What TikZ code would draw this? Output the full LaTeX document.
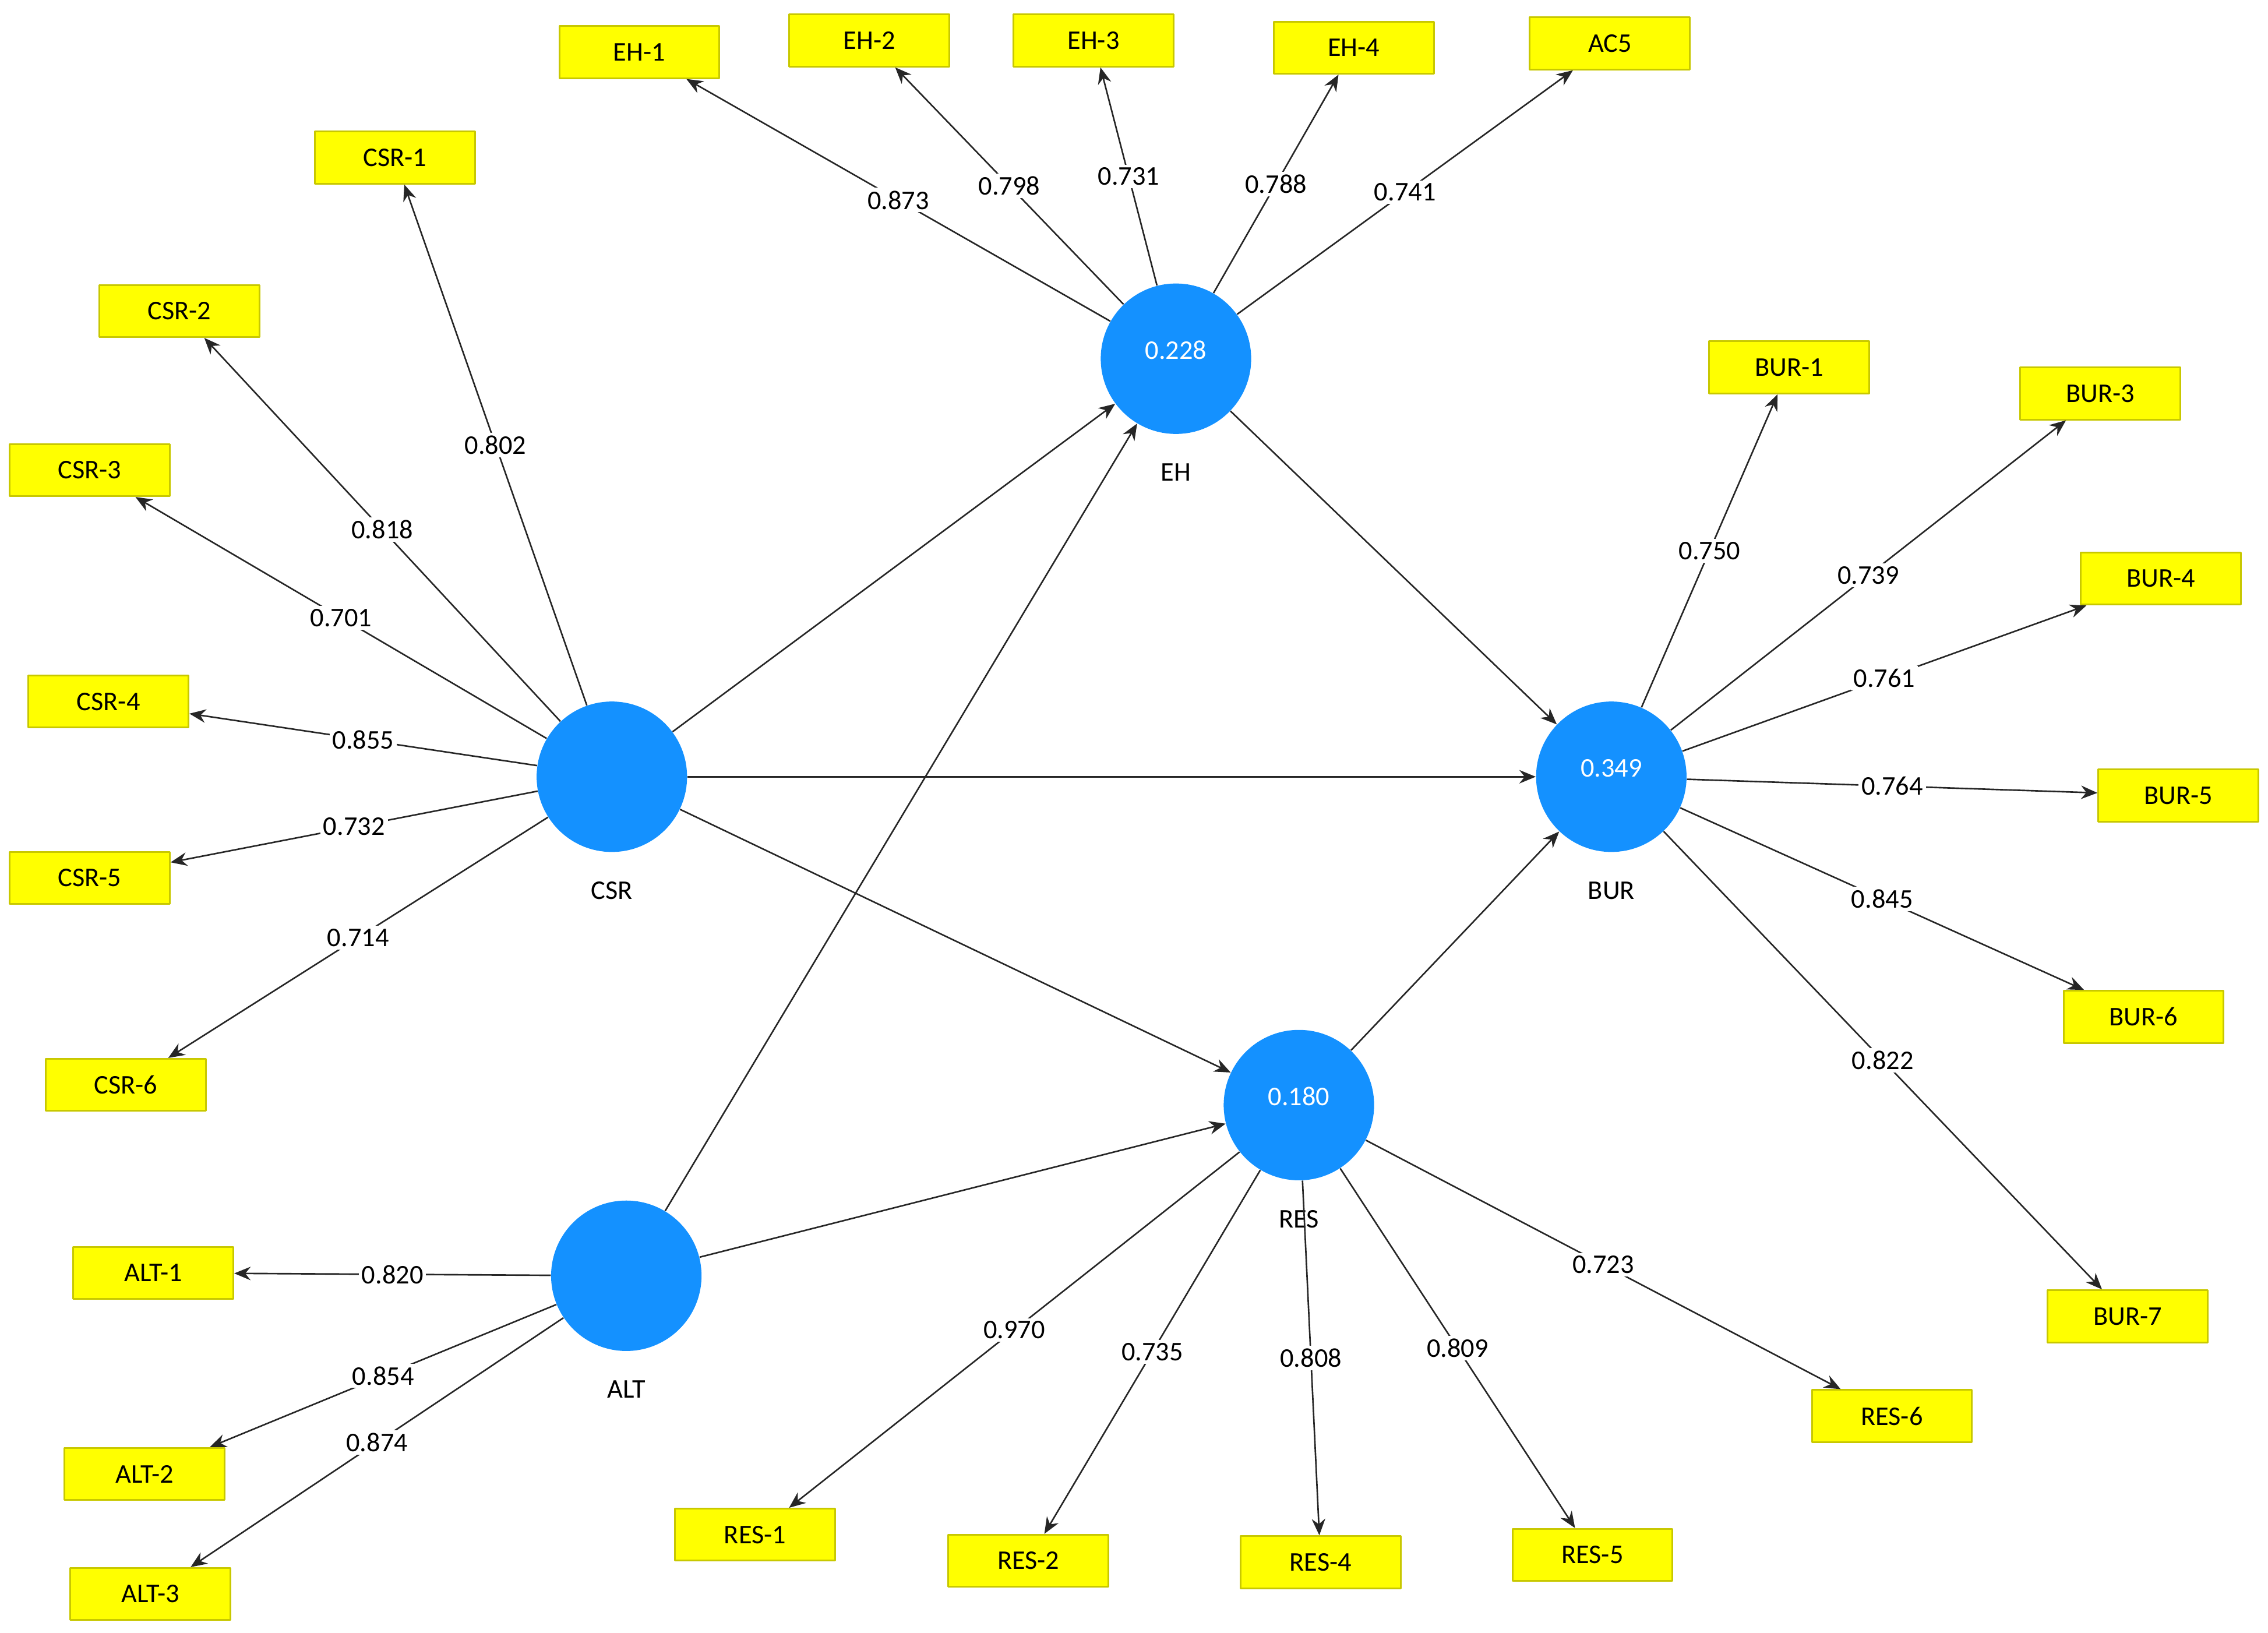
\documentclass[tikz,border=0pt]{standalone}
\usepackage{fontspec}
\setmainfont{Carlito}
\usetikzlibrary{arrows.meta,positioning}
\definecolor{lvblue}{RGB}{20,145,255}
\definecolor{mvyellow}{RGB}{255,255,0}
\definecolor{mvedge}{RGB}{200,200,0}
\begin{document}
\begin{tikzpicture}[line join=round, >={Stealth[length=8.5pt,width=7pt]}, x=0.75pt, y=-0.75pt]
	\tikzset{every node/.style={font=\fontsize{14}{16}\selectfont}}
	\tikzset{latent/.style={circle,fill=lvblue,text=white,minimum size=78pt,inner sep=0pt,text depth=9pt},
		ind/.style={rectangle,fill=mvyellow,draw=mvedge,line width=0.9pt,minimum width=83pt,minimum height=27pt,inner sep=0pt},
		load/.style={fill=white,inner sep=1.5pt},
		lvname/.style={inner sep=1pt}}
	\useasboundingbox (0,0) rectangle (1568,1128.6);
	% latent variables
	\node[latent] (eh) at (813,248) {0.228};
	\node[latent] (csr) at (423,537) {};
	\node[latent] (bur) at (1114,537) {0.349};
	\node[latent] (res) at (898,764) {0.180};
	\node[latent] (alt) at (433,882) {};
	\node[lvname, below=14pt of eh] (ehname) {EH};
	\node[lvname, below=14pt of csr] (csrname) {CSR};
	\node[lvname, below=14pt of bur] (burname) {BUR};
	\node[lvname, below=14pt of res] (resname) {RES};
	\node[lvname, below=14pt of alt] (altname) {ALT};
	% indicators
	\foreach \n/\x/\y/\t in {eh1/442/36/EH-1,eh2/601/28/EH-2,eh3/756/28/EH-3,eh4/936/33/EH-4,ac5/1113/30/AC5,
		csr1/273/109/CSR-1,csr2/124/215/CSR-2,csr3/62/325/CSR-3,csr4/75/485/CSR-4,csr5/62/607/CSR-5,csr6/87/750/CSR-6,
		bur1/1237/254/BUR-1,bur3/1452/272/BUR-3,bur4/1494/400/BUR-4,bur5/1506/550/BUR-5,bur6/1482/703/BUR-6,bur7/1471/910/BUR-7,
		res1/522/1061/RES-1,res2/711/1079/RES-2,res4/913/1080/RES-4,res5/1101/1075/RES-5,res6/1308/979/RES-6,
		alt1/106/880/ALT-1,alt2/100/1019/ALT-2,alt3/104/1102/ALT-3}
	\node[ind] (\n) at (\x,\y) {\t};
	% outer loadings
	\foreach \a/\b/\v in {eh/eh1/0.873,eh/eh2/0.798,eh/eh3/0.731,eh/eh4/0.788,eh/ac5/0.741,
		csr/csr1/0.802,csr/csr2/0.818,csr/csr3/0.701,csr/csr4/0.855,csr/csr5/0.732,csr/csr6/0.714,
		bur/bur1/0.750,bur/bur3/0.739,bur/bur4/0.761,bur/bur5/0.764,bur/bur6/0.845,bur/bur7/0.822,
		res/res1/0.970,res/res2/0.735,res/res4/0.808,res/res5/0.809,res/res6/0.723,
		alt/alt1/0.820,alt/alt2/0.854,alt/alt3/0.874}
	\draw[->,black!85,line width=0.8pt] (\a) -- node[load,text=black]{\v} (\b);
	% structural paths
	\foreach \a/\b in {csr/eh,alt/eh,csr/bur,eh/bur,csr/res,alt/res,res/bur}
	\draw[->,black!85,line width=0.8pt] (\a) -- (\b);
\end{tikzpicture}
\end{document}
